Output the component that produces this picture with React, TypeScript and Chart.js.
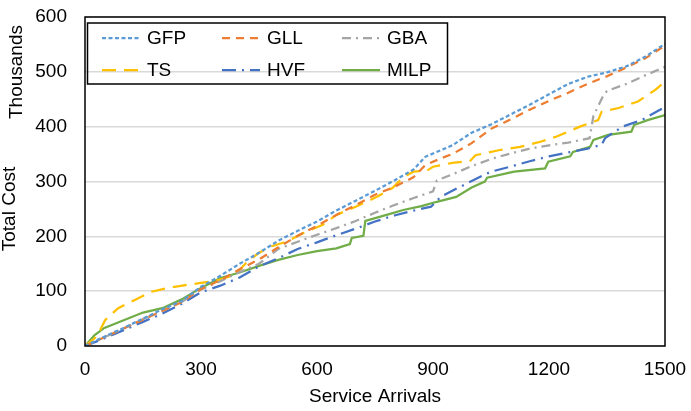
import { useEffect, useRef } from 'react';
import { Chart, registerables } from 'chart.js';

Chart.register(...registerables);

const FONT = '"Liberation Sans", Arial, Helvetica, sans-serif';

// x ticks and y ticks
const arrivalTicks = [0, 300, 600, 900, 1200, 1500];
const costTicks = [0, 100, 200, 300, 400, 500, 600];

const seriesLabels = ['GFP', 'GLL', 'GBA', 'TS', 'HVF', 'MILP'];

// each series: arrivals (x) and total cost in thousands (y)
const gfpArrivals = [0, 50, 100, 150, 200, 250, 300, 350, 400, 450, 500, 550, 600, 650, 700, 750, 800, 850, 880, 920, 950, 1000, 1050, 1100, 1150, 1200, 1250, 1300, 1350, 1400, 1450, 1500];
const gfpCost = [0, 17, 33, 50, 67, 82, 108, 128, 150, 170, 192, 210, 227, 247, 265, 283, 302, 322, 345, 357, 366, 389, 404, 422, 440, 459, 478, 491, 499, 510, 528, 551];

const gllArrivals = [0, 50, 100, 150, 200, 250, 300, 350, 400, 450, 500, 550, 600, 650, 700, 750, 800, 850, 880, 920, 950, 1000, 1050, 1100, 1150, 1200, 1250, 1300, 1350, 1400, 1450, 1500];
const gllCost = [0, 16, 32, 48, 64, 80, 104, 120, 140, 158, 180, 201, 219, 239, 257, 276, 290, 308, 330, 342, 350, 370, 396, 413, 431, 447, 462, 478, 492, 508, 525, 548];

const gbaArrivals = [0, 50, 100, 150, 200, 250, 300, 350, 400, 450, 500, 550, 600, 650, 700, 750, 800, 850, 900, 910, 950, 1000, 1050, 1100, 1150, 1200, 1250, 1305, 1315, 1340, 1350, 1400, 1450, 1500];
const gbaCost = [0, 16, 32, 49, 64, 80, 103, 118, 135, 150, 177, 190, 203, 215, 228, 243, 257, 270, 282, 302, 313, 328, 341, 351, 360, 366, 371, 379, 420, 456, 465, 478, 494, 509];

const tsArrivals = [0, 25, 40, 52, 65, 86, 129, 172, 215, 260, 300, 345, 390, 420, 450, 483, 520, 565, 615, 650, 700, 755, 795, 825, 850, 885, 900, 950, 995, 1010, 1070, 1125, 1180, 1220, 1250, 1280, 1327, 1336, 1380, 1430, 1455, 1475, 1495, 1500];
const tsCost = [0, 14, 30, 47, 56, 69, 84, 99, 106, 111, 115, 120, 131, 154, 170, 182, 190, 206, 221, 239, 254, 272, 288, 309, 318, 320, 327, 334, 337, 348, 357, 363, 373, 382, 391, 400, 412, 427, 434, 446, 458, 467, 479, 481];

const hvfArrivals = [0, 50, 100, 150, 200, 250, 300, 350, 400, 450, 500, 550, 600, 650, 700, 750, 800, 850, 895, 920, 950, 1000, 1050, 1100, 1150, 1200, 1250, 1300, 1336, 1345, 1390, 1440, 1480, 1500];
const hvfCost = [0, 14, 29, 44, 59, 77, 98, 110, 125, 145, 160, 177, 189, 202, 214, 227, 238, 247, 254, 272, 283, 301, 318, 327, 337, 346, 353, 360, 367, 379, 400, 412, 428, 436];

const milpArrivals = [0, 25, 50, 100, 150, 200, 250, 300, 350, 400, 450, 500, 550, 600, 650, 685, 690, 720, 725, 780, 823, 870, 910, 960, 1000, 1034, 1040, 1110, 1190, 1198, 1255, 1262, 1306, 1315, 1353, 1413, 1420, 1455, 1500];
const milpCost = [0, 20, 33, 47, 61, 69, 85, 106, 124, 134, 146, 157, 166, 173, 178, 186, 197, 201, 228, 239, 248, 255, 263, 272, 289, 300, 307, 318, 324, 336, 346, 354, 363, 376, 385, 391, 403, 412, 421];

const seriesArrivals = [gfpArrivals, gllArrivals, gbaArrivals, tsArrivals, hvfArrivals, milpArrivals];
const seriesCost = [gfpCost, gllCost, gbaCost, tsCost, hvfCost, milpCost];

const colors = ['#5B9BD5', '#ED7D31', '#A5A5A5', '#FFC000', '#4472C4', '#70AD47'];
const dashes: number[][] = [[4, 2.5], [8, 6], [9, 5, 2, 5], [14, 8], [14, 6, 2, 6], []];

// titles + legend box drawn inside the plot
const overlay = {
  id: 'overlay',
  afterDraw(chart: any) {
    const { ctx, chartArea: a } = chart;
    ctx.save();
    ctx.setLineDash([]);
    ctx.strokeStyle = '#000';
    ctx.lineWidth = 1.5;
    ctx.strokeRect(a.left, a.top, a.right - a.left, a.bottom - a.top);

    ctx.fillStyle = '#000';
    ctx.font = `19px ${FONT}`;
    ctx.textAlign = 'center';
    ctx.textBaseline = 'middle';
    ctx.fillText('Service Arrivals', (a.left + a.right) / 2, 397);

    ctx.save();
    ctx.translate(10, 209);
    ctx.rotate(-Math.PI / 2);
    ctx.fillText('Total Cost', 0, 0);
    ctx.restore();

    ctx.save();
    ctx.translate(17, 72);
    ctx.rotate(-Math.PI / 2);
    ctx.fillText('Thousands', 0, 0);
    ctx.restore();

    // legend
    ctx.lineWidth = 1.5;
    ctx.strokeRect(a.left + 2.5, a.top + 6, 360, 61);
    ctx.textAlign = 'left';
    chart.data.datasets.forEach((ds: any, i: number) => {
      const col = i % 3;
      const row = Math.floor(i / 3);
      const x0 = a.left + 17 + col * 120;
      const y = a.top + 21 + row * 32;
      ctx.setLineDash(ds.borderDash || []);
      ctx.strokeStyle = ds.borderColor;
      ctx.lineWidth = 2.25;
      ctx.beginPath();
      ctx.moveTo(x0, y);
      ctx.lineTo(x0 + 38, y);
      ctx.stroke();
      ctx.setLineDash([]);
      ctx.fillText(ds.label, x0 + 45, y + 1);
    });
    ctx.restore();
  },
};

// keep tick labels from pushing the plot area around
const noScalePadding = (scale: any) => {
  scale.paddingTop = 0;
  scale.paddingBottom = 0;
  scale.paddingLeft = 0;
  scale.paddingRight = 0;
};

export default function App() {
  const chartRef = useRef<HTMLCanvasElement>(null);
  const chartInstance = useRef<Chart | null>(null);

  useEffect(() => {
    document.body.style.margin = '0';
    if (!chartRef.current) return;
    if (chartInstance.current) chartInstance.current.destroy();
    const ctx = chartRef.current.getContext('2d');
    if (!ctx) return;

    Chart.defaults.font.family = FONT;

    chartInstance.current = new Chart(ctx, {
      type: 'line',
      data: {
        datasets: seriesLabels.map((label, i) => ({
          label,
          data: seriesArrivals[i].map((x, j) => ({ x, y: seriesCost[i][j] })),
          borderColor: colors[i],
          backgroundColor: colors[i],
          borderDash: dashes[i],
          borderWidth: 2.25,
          pointRadius: 0,
          tension: 0,
          fill: false,
        })),
      },
      options: {
        animation: false,
        responsive: true,
        maintainAspectRatio: false,
        layout: { padding: { left: 0, right: 26, top: 17, bottom: 0 } },
        plugins: {
          legend: { display: false },
          tooltip: { enabled: false },
        },
        scales: {
          x: {
            type: 'linear',
            min: 0,
            max: 1500,
            afterBuildTicks: (scale: any) => {
              scale.ticks = arrivalTicks.map(value => ({ value }));
            },
            afterFit: (scale: any) => {
              scale.height = 65;
              noScalePadding(scale);
            },
            grid: { display: false, drawTicks: false },
            border: { display: false },
            ticks: {
              color: '#000',
              padding: 12,
              font: { size: 19 },
              maxRotation: 0,
              callback: (v: any) => String(v),
            },
          },
          y: {
            min: 0,
            max: 600,
            afterBuildTicks: (scale: any) => {
              scale.ticks = costTicks.map(value => ({ value }));
            },
            afterFit: (scale: any) => {
              scale.width = 85;
              noScalePadding(scale);
            },
            grid: { color: '#D9D9D9', lineWidth: 1.5, drawTicks: false },
            border: { display: false },
            ticks: { color: '#000', padding: 18, font: { size: 19 } },
          },
        },
      },
      plugins: [overlay],
    });

    return () => {
      if (chartInstance.current) {
        chartInstance.current.destroy();
        chartInstance.current = null;
      }
    };
  }, []);

  return (
    <div style={{ width: 691, height: 411, position: 'relative' }}>
      <canvas ref={chartRef}></canvas>
    </div>
  );
}
